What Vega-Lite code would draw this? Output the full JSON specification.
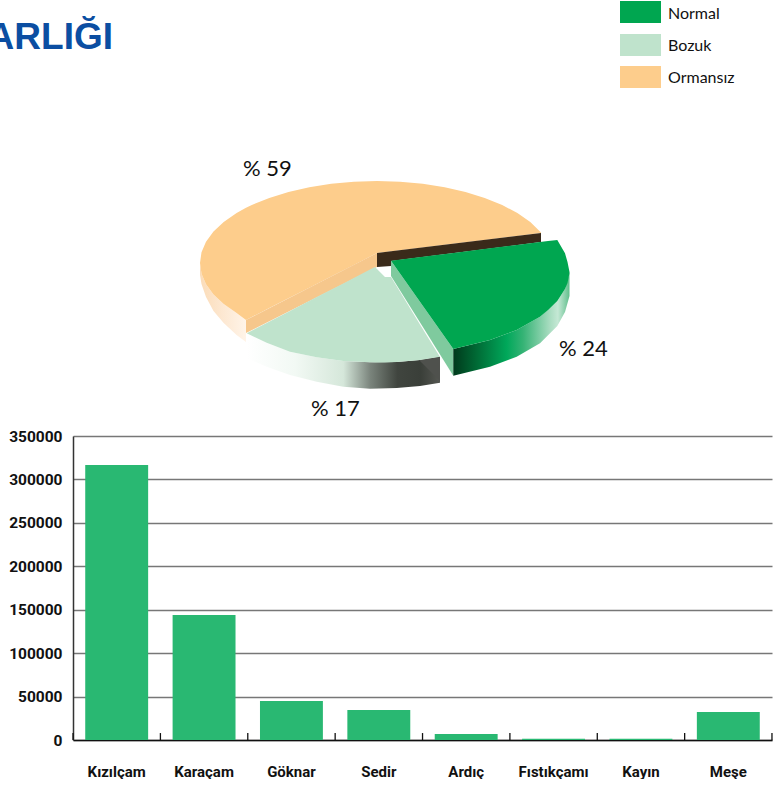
{
"$schema":"https://vega.github.io/schema/vega-lite/v6.json",
"padding":{"left":-13,"top":0,"right":0,"bottom":0},"spacing":0,"background":"white","bounds":"full",
"config":{"view":{"stroke":null},"concat":{"spacing":0}},
"vconcat":[
{"width":699,"height":429,
 "encoding":{
  "x":{"field":"x","type":"quantitative","scale":{"domain":[73,772],"nice":false,"zero":false},"axis":null},
  "y":{"field":"y","type":"quantitative","scale":{"domain":[429,0],"nice":false,"zero":false},"axis":null}},
 "layer":[
 {"data":{"values":[{"x":200,"y":263,"y2":275},{"x":201.5,"y":273.7,"y2":284},{"x":206,"y":284.2,"y2":297},{"x":213.5,"y":294.4,"y2":311},{"x":223.7,"y":304,"y2":323},{"x":236.6,"y":312.9,"y2":335},{"x":246,"y":320,"y2":342}]},
  "mark":{"type":"area","orient":"vertical","fill":{"gradient":"linear","x1":0,"y1":0,"x2":1,"y2":0,"stops":[{"offset":0,"color":"#fbdcb8"},{"offset":0.5,"color":"#fde8d2"},{"offset":1,"color":"#fff4e8"}]}},
  "encoding":{"y2":{"field":"y2"}}},
 {"data":{"values":[{"x":200,"y":263,"y2":263},{"x":201.5,"y":252.3,"y2":273.7},{"x":206,"y":241.8,"y2":284.2},{"x":213.5,"y":231.6,"y2":294.4},{"x":223.7,"y":222,"y2":304},{"x":236.6,"y":213.1,"y2":312.9},{"x":246,"y":207.8,"y2":320},{"x":251.8,"y":205,"y2":317},{"x":269.3,"y":198,"y2":308.1},{"x":288.5,"y":192,"y2":298.3},{"x":309.3,"y":187.2,"y2":287.7},{"x":331.2,"y":183.8,"y2":276.5},{"x":353.9,"y":181.7,"y2":264.9},{"x":377,"y":181,"y2":253},{"x":400.1,"y":181.7,"y2":250.2},{"x":422.8,"y":183.8,"y2":247.4},{"x":444.7,"y":187.2,"y2":244.7},{"x":465.5,"y":192,"y2":242.2},{"x":484.7,"y":198,"y2":239.9},{"x":502.2,"y":205,"y2":237.7},{"x":517.4,"y":213.1,"y2":235.9},{"x":530.3,"y":222,"y2":234.3},{"x":541,"y":232.5,"y2":233}]},
  "mark":{"type":"area","orient":"vertical","fill":"#fdcd8c"},
  "encoding":{"y2":{"field":"y2"}}},
 {"data":{"values":[{"x":246,"y":320,"y2":333},{"x":377,"y":253,"y2":267}]},
  "mark":{"type":"area","orient":"vertical","fill":"#f6c78c"},
  "encoding":{"y2":{"field":"y2"}}},
 {"data":{"values":[{"x":377,"y":253,"y2":267},{"x":391,"y":251.3,"y2":266},{"x":391.01,"y":251.3,"y2":261},{"x":541,"y":233,"y2":242}]},
  "mark":{"type":"area","orient":"vertical","fill":"#3a2a1a"},
  "encoding":{"y2":{"field":"y2"}}},
 {"data":{"values":[{"x":246.7,"y":333.3,"y2":358.3},{"x":266.7,"y":342.7,"y2":366.7},{"x":290,"y":351.7,"y2":375},{"x":316.7,"y":357.3,"y2":381.7},{"x":343.3,"y":361,"y2":386.7},{"x":370,"y":362.3,"y2":388.7},{"x":396.7,"y":362,"y2":388},{"x":420,"y":360,"y2":386},{"x":440,"y":356.7,"y2":382.7}]},
  "mark":{"type":"area","orient":"vertical","fill":{"gradient":"linear","x1":0,"y1":0,"x2":1,"y2":0,"stops":[{"offset":0,"color":"#ffffff"},{"offset":0.25,"color":"#f2f9f4"},{"offset":0.5,"color":"#d5e7da"},{"offset":0.64,"color":"#7a847c"},{"offset":0.78,"color":"#40453f"},{"offset":0.9,"color":"#3a3f39"},{"offset":1,"color":"#555752"}]}},
  "encoding":{"y2":{"field":"y2"}}},
 {"data":{"values":[{"x":420,"y":360,"y2":361},{"x":440,"y":356.7,"y2":381}]},
  "mark":{"type":"area","orient":"vertical","fill":"#4f514d"},
  "encoding":{"y2":{"field":"y2"}}},
 {"data":{"values":[{"x":246.7,"y":333.3,"y2":333.3},{"x":266.7,"y":323,"y2":342.7},{"x":290,"y":310.9,"y2":351.7},{"x":316.7,"y":297.1,"y2":357.3},{"x":343.3,"y":283.4,"y2":361},{"x":370,"y":269.6,"y2":362.3},{"x":375,"y":267,"y2":362.4},{"x":385,"y":277,"y2":362.4},{"x":391,"y":277,"y2":362.2},{"x":396.7,"y":286.3,"y2":362},{"x":420,"y":324.4,"y2":360},{"x":440,"y":357,"y2":356.7}]},
  "mark":{"type":"area","orient":"vertical","fill":"#bfe3cc"},
  "encoding":{"y2":{"field":"y2"}}},
 {"data":{"values":[{"x":391,"y":260.7,"y2":276},{"x":453.3,"y":349,"y2":375.7}]},
  "mark":{"type":"area","orient":"vertical","fill":"#7fca9e"},
  "encoding":{"y2":{"field":"y2"}}},
 {"data":{"values":[{"x":453.3,"y":349,"y2":375.7},{"x":490,"y":340,"y2":366.7},{"x":516.7,"y":330,"y2":356.7},{"x":540,"y":316.7,"y2":343.3},{"x":557.3,"y":301,"y2":326},{"x":565,"y":289,"y2":312},{"x":569.5,"y":272,"y2":296}]},
  "mark":{"type":"area","orient":"vertical","fill":{"gradient":"linear","x1":0,"y1":0,"x2":1,"y2":0,"stops":[{"offset":0,"color":"#003a1c"},{"offset":0.2,"color":"#006a35"},{"offset":0.46,"color":"#00a85a"},{"offset":0.6,"color":"#35b375"},{"offset":0.83,"color":"#a8dcc0"},{"offset":0.9,"color":"#c5e8d5"},{"offset":1,"color":"#60bf8c"}]}},
  "encoding":{"y2":{"field":"y2"}}},
 {"data":{"values":[{"x":391,"y":260.7,"y2":260.7},{"x":453.3,"y":252.9,"y2":349},{"x":490,"y":248.3,"y2":340},{"x":516.7,"y":245,"y2":330},{"x":540,"y":242.1,"y2":316.7},{"x":548,"y":241,"y2":310},{"x":557.3,"y":240,"y2":301},{"x":565,"y":253.3,"y2":289},{"x":567.5,"y":262,"y2":283},{"x":569.5,"y":272,"y2":273}]},
  "mark":{"type":"area","orient":"vertical","fill":"#00a650"},
  "encoding":{"y2":{"field":"y2"}}},
 {"data":{"values":[{"x":620,"x2":661,"y":1,"y2":23,"c":"#00a650"},{"x":620,"x2":661,"y":34,"y2":56,"c":"#bfe3cc"},{"x":620,"x2":661,"y":66,"y2":88,"c":"#fdcd8c"}]},
  "mark":{"type":"rect"},
  "encoding":{"x2":{"field":"x2"},"y2":{"field":"y2"},"color":{"field":"c","type":"nominal","scale":null}}},
 {"data":{"values":[{"x":668,"y":14,"t":"Normal"},{"x":668,"y":46,"t":"Bozuk"},{"x":668,"y":78,"t":"Ormansız"}]},
  "mark":{"type":"text","align":"left","baseline":"middle","font":"Lato","fontSize":16,"color":"#111111"},
  "encoding":{"text":{"field":"t"}}},
 {"data":{"values":[{"x":243,"y":176,"t":"% 59"},{"x":559,"y":356,"t":"% 24"},{"x":311,"y":416,"t":"% 17"}]},
  "mark":{"type":"text","align":"left","baseline":"alphabetic","font":"Lato","fontSize":22,"color":"#111111"},
  "encoding":{"text":{"field":"t"}}},
 {"data":{"values":[{"x":113,"y":49,"t":"ARLIĞI"}]},
  "mark":{"type":"text","align":"right","baseline":"alphabetic","font":"Liberation Sans","fontWeight":"bold","fontSize":37,"color":"#0b4ea2"},
  "encoding":{"text":{"field":"t"}}}
 ]},
{"width":699,"height":304,
 "data":{"values":[{"tur":"Kızılçam","alan":316600},{"tur":"Karaçam","alan":143900},{"tur":"Göknar","alan":44900},{"tur":"Sedir","alan":34500},{"tur":"Ardıç","alan":6900},{"tur":"Fıstıkçamı","alan":1500},{"tur":"Kayın","alan":1500},{"tur":"Meşe","alan":32200}]},
 "encoding":{
  "x":{"field":"tur","type":"nominal","sort":null,"title":null,
   "scale":{"paddingInner":0.28,"paddingOuter":0.14},
   "axis":{"labelAngle":0,"ticks":false,"domainColor":"#111111","domainWidth":1.5,"labelFont":"Roboto","labelFontWeight":"bold","labelFontSize":15,"labelColor":"#111111","labelPadding":24}},
  "y":{"field":"alan","type":"quantitative","title":null,
   "scale":{"domain":[0,350000],"nice":false},
   "axis":{"format":"d","values":[0,50000,100000,150000,200000,250000,300000,350000],"ticks":false,"grid":true,"gridColor":"#777777","gridWidth":1.5,"domainColor":"#333333","domainWidth":1.5,"labelFont":"Roboto","labelFontWeight":"bold","labelFontSize":15.5,"labelColor":"#111111","labelPadding":11,"minExtent":73,"maxExtent":73}}},
 "layer":[
  {"mark":{"type":"bar","color":"#29b872"}},
  {"mark":{"type":"rule","color":"#111111","strokeWidth":1.3,"xOffset":-12.2},
   "encoding":{"x":{"field":"tur","type":"nominal","sort":null,"bandPosition":0},"y":{"datum":0},"y2":{"datum":8000}}},
  {"transform":[{"filter":"datum.tur === 'Meşe'"}],
   "mark":{"type":"rule","color":"#111111","strokeWidth":1.3,"xOffset":12.2},
   "encoding":{"x":{"field":"tur","type":"nominal","sort":null,"bandPosition":1},"y":{"datum":0},"y2":{"datum":8000}}}
 ]}
]}
